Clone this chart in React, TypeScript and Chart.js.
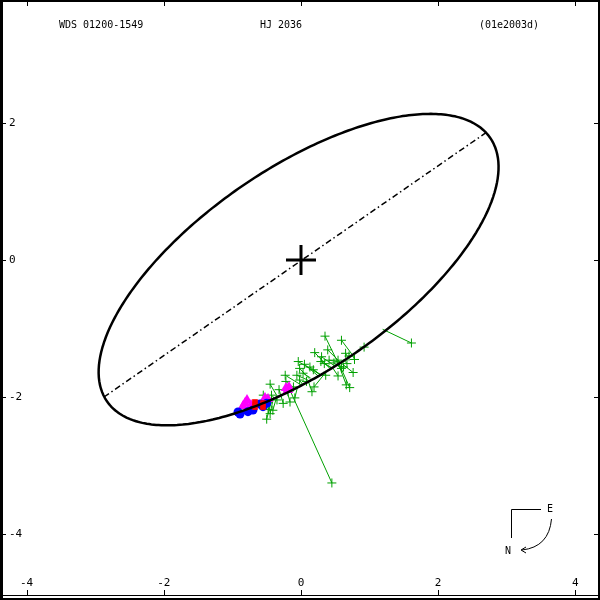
import React, { useEffect, useRef } from "react";
import { Chart, registerables } from "chart.js";

Chart.register(...registerables);

// ---- axes ----
const xTicks = [-4, -2, 0, 2, 4];
const yTicks = [2, 0, -2, -4];
const xMin = -4.388;
const xMax = 4.359;
const yMin = -4.956;
const yMax = 3.79;

// ---- header texts ----
const titleLeft = "WDS 01200-1549";
const titleMid = "HJ 2036";
const titleRight = "(01e2003d)";

// ---- apparent orbit (ellipse) ----
const orbitCenterX = -0.035;
const orbitCenterY = -0.14;
const orbitSemiMajor = 3.39;
const orbitSemiMinor = 1.47;
const orbitAngleDeg = 34.5;

// ---- line of nodes ----
const nodeX = [-2.872, 2.711];
const nodeY = [-1.997, 1.866];

// ---- micrometer observations (green +) and their predicted positions ----
const microX = [0.35, 0.59, 0.92, 1.61, 0.2, 0.39, 0.65, -0.04, 0.05, 0.13, 0.29, 0.34, 0.41, 0.48, 0.62, 0.7, 0.78, 0.76, 0.59, -0.23, -0.06, 0.03, 0.18, 0.36, 0.54, 0.66, 0.71, 0.19, 0.16, -0.45, -0.22, -0.32, -0.09, -0.43, -0.55, -0.26, -0.48, -0.41, -0.5, 0.45, -0.45, -0.19, -0.02, 0.08, 0.3, 0.54, 0.67, -0.02, -0.11, -0.35, -0.16];
const microY = [-1.11, -1.17, -1.27, -1.21, -1.35, -1.31, -1.36, -1.48, -1.52, -1.56, -1.48, -1.51, -1.46, -1.5, -1.56, -1.4, -1.45, -1.64, -1.58, -1.68, -1.68, -1.65, -1.6, -1.68, -1.69, -1.82, -1.86, -1.85, -1.92, -1.81, -1.77, -1.89, -2.01, -1.97, -1.97, -2.09, -2.18, -2.19, -2.32, -3.25, -2.24, -1.92, -1.75, -1.77, -1.41, -1.46, -1.51, -1.58, -1.85, -2.04, -2.07];
const microPredX = [0.54, 0.74, 0.89, 1.19, 0.42, 0.57, 0.68, 0.28, 0.25, 0.28, 0.45, 0.45, 0.57, 0.52, 0.51, 0.69, 0.75, 0.57, 0.52, 0.0, 0.1, 0.14, 0.28, 0.33, 0.46, 0.54, 0.55, 0.4, 0.1, -0.35, -0.1, -0.3, -0.05, -0.4, -0.45, -0.3, -0.4, -0.35, -0.42, -0.16, -0.4, -0.18, 0.02, 0.06, 0.5, 0.56, 0.62, 0.12, -0.1, -0.36, -0.2];
const microPredY = [-1.5, -1.37, -1.27, -1.01, -1.58, -1.49, -1.41, -1.67, -1.69, -1.67, -1.57, -1.58, -1.49, -1.53, -1.53, -1.4, -1.38, -1.49, -1.53, -1.82, -1.75, -1.72, -1.67, -1.63, -1.57, -1.5, -1.5, -1.59, -1.75, -1.98, -1.87, -1.95, -1.85, -2.0, -2.02, -1.95, -2.0, -1.98, -2.01, -1.9, -2.0, -1.91, -1.81, -1.79, -1.55, -1.49, -1.45, -1.73, -1.87, -1.98, -1.92];

// ---- interferometric observations ----
const blueX = [-0.889, -0.918, -0.773, -0.7, -0.598, -0.554, -0.5];
const blueY = [-2.245, -2.216, -2.211, -2.187, -2.099, -2.138, -2.089];
const magentaX = [-0.816, -0.787, -0.845, -0.729, -0.525, -0.481, -0.219, -0.175, -0.19];
const magentaY = [-2.085, -2.041, -2.128, -2.114, -2.012, -2.026, -1.866, -1.851, -1.895];
const redX = [-0.671, -0.671, -0.554, -0.554];
const redY = [-2.07, -2.143, -2.085, -2.143];

const GREEN = "#00a000";
const MONO = "'DejaVu Sans Mono', monospace";

function pts(xs: number[], ys: number[]) {
  return xs.map((x, i) => ({ x, y: ys[i] }));
}

function orbitPoints() {
  const out: { x: number; y: number }[] = [];
  const th = (orbitAngleDeg * Math.PI) / 180;
  for (let d = 0; d <= 360; d += 2) {
    const t = (d * Math.PI) / 180;
    const u = orbitSemiMajor * Math.cos(t);
    const v = orbitSemiMinor * Math.sin(t);
    out.push({
      x: orbitCenterX + u * Math.cos(th) - v * Math.sin(th),
      y: orbitCenterY + u * Math.sin(th) + v * Math.cos(th),
    });
  }
  return out;
}

function ocSegments() {
  const out: { x: number; y: number | null }[] = [];
  microX.forEach((x, i) => {
    out.push({ x, y: microY[i] });
    out.push({ x: microPredX[i], y: microPredY[i] });
    out.push({ x, y: null });
  });
  return out;
}

const framePlugin = {
  id: "framePlugin",
  afterDraw(chart: any) {
    const ctx = chart.ctx;
    const { left, right, top, bottom } = chart.chartArea;
    const xs = chart.scales.x;
    const ys = chart.scales.y;
    ctx.save();
    ctx.strokeStyle = "#000";
    ctx.fillStyle = "#000";
    // frame
    ctx.lineWidth = 2;
    ctx.strokeRect(left + 1, top + 1, right - left - 2, bottom - top - 2);
    ctx.fillRect(left, top, 3, bottom - top);
    ctx.fillRect(left, bottom - 5, right - left, 1);
    // tick marks
    ctx.lineWidth = 1;
    ctx.beginPath();
    xTicks.forEach((v) => {
      const px = Math.round(xs.getPixelForValue(v)) + 0.5;
      ctx.moveTo(px, top);
      ctx.lineTo(px, top + 6);
      ctx.moveTo(px, bottom - 5);
      ctx.lineTo(px, bottom - 10);
    });
    yTicks.forEach((v) => {
      const py = Math.round(ys.getPixelForValue(v)) + 0.5;
      ctx.moveTo(left, py);
      ctx.lineTo(left + 6, py);
      ctx.moveTo(right, py);
      ctx.lineTo(right - 6, py);
    });
    ctx.stroke();
    // header
    ctx.font = "10px " + MONO;
    ctx.textBaseline = "middle";
    ctx.textAlign = "left";
    ctx.fillText(titleLeft, left + 59, top + 25);
    ctx.textAlign = "center";
    ctx.fillText(titleMid, left + 281, top + 25);
    ctx.fillText(titleRight, left + 509, top + 25);
    // compass
    const cx = right - 89;
    const cy = bottom - 91;
    ctx.beginPath();
    ctx.moveTo(cx + 30, cy + 0.5);
    ctx.lineTo(cx + 0.5, cy + 0.5);
    ctx.lineTo(cx + 0.5, cy + 29);
    ctx.stroke();
    ctx.fillText("E", cx + 39, cy);
    ctx.fillText("N", cx - 3, cy + 42);
    ctx.beginPath();
    ctx.moveTo(cx + 40.5, cy + 10);
    ctx.quadraticCurveTo(cx + 38, cy + 38, cx + 11, cy + 41);
    ctx.stroke();
    ctx.beginPath();
    ctx.moveTo(cx + 10, cy + 41);
    ctx.lineTo(cx + 15, cy + 38);
    ctx.moveTo(cx + 10, cy + 41);
    ctx.lineTo(cx + 15, cy + 44);
    ctx.stroke();
    ctx.restore();
  },
};

function zeroPad(s: any) {
  s.paddingLeft = 0;
  s.paddingRight = 0;
  s.paddingTop = 0;
  s.paddingBottom = 0;
}

export default function App() {
  const ref = useRef<HTMLCanvasElement>(null);
  useEffect(() => {
    document.body.style.margin = "0";
    const canvas = ref.current!;
    const chart = new Chart(canvas, {
      type: "scatter",
      data: {
        datasets: [
          {
            label: "orbit",
            data: orbitPoints(),
            showLine: true,
            tension: 0.001,
            borderColor: "#000",
            borderWidth: 2.5,
            pointRadius: 0,
            order: 0,
          },
          {
            label: "origin",
            data: [{ x: 0, y: 0 }],
            pointStyle: "cross",
            pointRadius: 15,
            borderColor: "#000",
            borderWidth: 3,
            order: 0,
          },
          {
            label: "nodes",
            data: pts(nodeX, nodeY),
            showLine: true,
            borderColor: "#000",
            borderWidth: 1.5,
            borderDash: [6, 3, 1.5, 3],
            pointRadius: 0,
            order: 1,
          },
          {
            label: "red",
            data: pts(redX, redY),
            pointStyle: "rect",
            pointRadius: 4,
            backgroundColor: "#ff0000",
            borderColor: "#ff0000",
            borderWidth: 0,
            order: 2,
          },
          {
            label: "blue",
            data: pts(blueX, blueY),
            pointStyle: "circle",
            pointRadius: 4.5,
            backgroundColor: "#0000ff",
            borderColor: "#0000ff",
            borderWidth: 0,
            order: 3,
          },
          {
            label: "magenta",
            data: pts(magentaX, magentaY),
            pointStyle: "triangle",
            pointRadius: 6,
            backgroundColor: "#ff00ff",
            borderColor: "#ff00ff",
            borderWidth: 0,
            order: 4,
          },
          {
            label: "micrometer",
            data: pts(microX, microY),
            pointStyle: "cross",
            pointRadius: 4.5,
            borderColor: GREEN,
            borderWidth: 1,
            order: 5,
          },
          {
            label: "oc",
            data: ocSegments() as any,
            showLine: true,
            spanGaps: false,
            borderColor: GREEN,
            borderWidth: 1,
            pointRadius: 0,
            order: 6,
          },
        ],
      },
      options: {
        animation: false,
        responsive: false,
        maintainAspectRatio: false,
        layout: { padding: 0, autoPadding: false },
        plugins: { legend: { display: false }, tooltip: { enabled: false }, title: { display: false } },
        scales: {
          x: {
            type: "linear",
            min: xMin,
            max: xMax,
            afterBuildTicks: (s: any) => {
              s.ticks = xTicks.map((v) => ({ value: v }));
            },
            afterFit: (s: any) => {
              s.height = 0;
              zeroPad(s);
            },
            grid: { display: false, drawTicks: false },
            border: { display: false },
            ticks: {
              mirror: true,
              padding: 10,
              autoSkip: false,
              maxRotation: 0,
              color: "#000",
              font: { family: MONO, size: 11 },
              callback: (v: any) => String(v),
            },
          },
          y: {
            type: "linear",
            min: yMin,
            max: yMax,
            afterBuildTicks: (s: any) => {
              s.ticks = yTicks.map((v) => ({ value: v }));
            },
            afterFit: (s: any) => {
              s.width = 0;
              zeroPad(s);
            },
            grid: { display: false, drawTicks: false },
            border: { display: false },
            ticks: {
              mirror: true,
              padding: 9,
              autoSkip: false,
              color: "#000",
              font: { family: MONO, size: 11 },
              callback: (v: any) => String(v),
            },
          },
        },
      },
      plugins: [framePlugin],
    });
    return () => chart.destroy();
  }, []);
  return (
    <div style={{ width: 600, height: 600, background: "#fff" }}>
      <canvas ref={ref} width={600} height={600} />
    </div>
  );
}
